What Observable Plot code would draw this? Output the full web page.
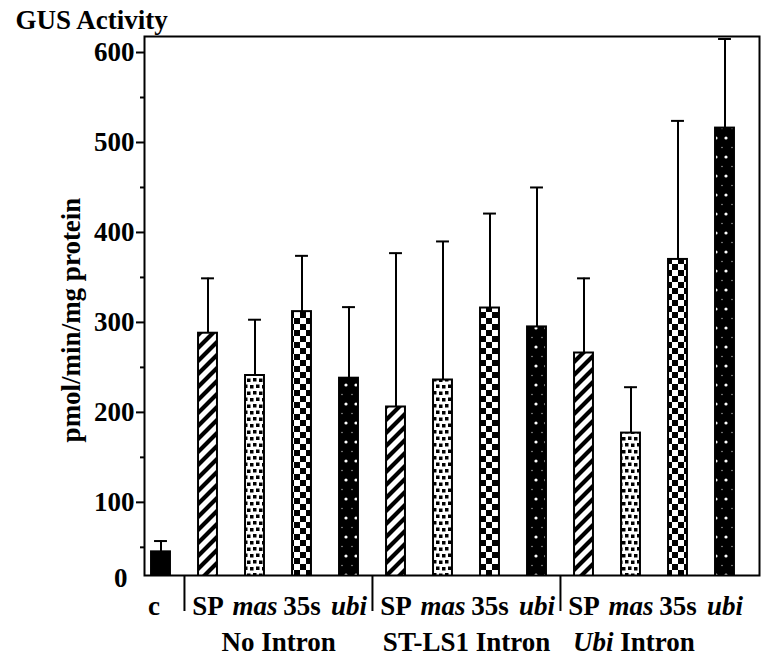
<!DOCTYPE html>
<html><head><meta charset="utf-8">
<script src="https://cdn.jsdelivr.net/npm/d3@7"></script>
<script src="https://cdn.jsdelivr.net/npm/@observablehq/plot@0.6"></script>
<style>body{margin:0;background:#fff}</style>
</head><body><div id="chart"></div>
<script>
// ---- data ----
const promoters = ["c","SP","mas","35s","ubi","SP","mas","35s","ubi","SP","mas","35s","ubi"];
const groups = ["control","No Intron","No Intron","No Intron","No Intron",
  "ST-LS1 Intron","ST-LS1 Intron","ST-LS1 Intron","ST-LS1 Intron",
  "Ubi Intron","Ubi Intron","Ubi Intron","Ubi Intron"];
const means = [45, 288, 241, 312, 238, 206, 236, 316, 295, 266, 177, 370, 516];
const sds   = [12,  61,  62,  62,  79, 171, 154, 105, 155,  83,  51, 154,  99];
const yTicks = [100, 200, 300, 400, 500, 600];
const yMinorTicks = [50, 150, 250, 350, 450, 550];
const italicPromoters = ["mas", "ubi"];
const groupLabels = ["No Intron", "ST-LS1 Intron", "Ubi Intron"];
const title = "GUS Activity";
const yLabel = "pmol/min/mg protein";
const zeroLabel = "0";

const data = promoters.map((p, i) => ({
  key: groups[i] + "|" + p, promoter: p, group: groups[i],
  mean: means[i], top: means[i] + sds[i]
}));
const keys = data.map(d => d.key);
const groupRows = groupLabels.map(g => ({label: g, key: g + "|mas", spKey: g + "|SP"}));
const sepRows = data.filter((d, i) => i > 0 && d.promoter === "SP");

const W = 761, H = 658, ML = 144, MR = 2, MT = 36, MB = 83;
const xRange = [136, 748];
const step = (xRange[1] - xRange[0]) / keys.length;
const barW = 19, capW = 13;
const FONT = "'Liberation Serif', 'Times New Roman', serif";
const FS = 27;

const patternOf = {c: "#000", SP: "url(#hatch)", mas: "url(#dots)", "35s": "url(#checker)", ubi: "url(#ubidots)"};

const barMarks = Object.keys(patternOf).map(p =>
  Plot.barY(data.filter(d => d.promoter === p), {
    x: "key", y: "mean", fill: patternOf[p], stroke: "#000", strokeWidth: 2,
    insetLeft: (step - barW) / 2, insetRight: (step - barW) / 2, clip: true
  })
);

const labelOpts = {x: "key", text: "promoter", frameAnchor: "bottom", lineAnchor: "bottom",
  dy: 39, fontSize: FS, fontWeight: "bold"};

const chart = Plot.plot({
  width: W, height: H,
  marginLeft: ML, marginRight: MR, marginTop: MT, marginBottom: MB,
  style: {fontFamily: FONT, fontWeight: "bold", background: "#fff", color: "#000", overflow: "visible"},
  x: {type: "band", domain: keys, range: xRange, padding: 0, axis: null},
  y: {domain: [18.7, 617.8], axis: null},
  marks: [
    ...barMarks,
    Plot.ruleX(data, {x: "key", y1: "mean", y2: "top", stroke: "#000", strokeWidth: 2}),
    Plot.tickY(data, {x: "key", y: "top", stroke: "#000", strokeWidth: 2,
      insetLeft: (step - capW) / 2, insetRight: (step - capW) / 2}),
    Plot.frame({stroke: "#000", strokeWidth: 2}),
    Plot.axisY({ticks: yTicks, tickSize: 8, tickPadding: 2, fontSize: FS, fontWeight: "bold",
      strokeWidth: 2, label: null}),
    Plot.axisY({ticks: yMinorTicks, tickSize: 4, tickFormat: () => "", strokeWidth: 2, label: null}),
    Plot.text([zeroLabel], {text: d => d, frameAnchor: "bottom-left", textAnchor: "end",
      lineAnchor: "middle", dx: -17, dy: 3, fontSize: FS, fontWeight: "bold"}),
    // group separators below the axis
    Plot.ruleX(sepRows, {x: "key", dx: -step / 2, insetTop: (H - MB - MT) - 36, dy: 36,
      stroke: "#000", strokeWidth: 2}),
    // bar labels
    Plot.text(data.filter(d => d.promoter === "c"), {...labelOpts, dx: -7}),
    Plot.text(data.filter(d => d.promoter !== "c" && !italicPromoters.includes(d.promoter)), labelOpts),
    Plot.text(data.filter(d => italicPromoters.includes(d.promoter)), {...labelOpts, fontStyle: "italic"}),
    // group labels
    Plot.text(groupRows.filter(g => g.label !== "Ubi Intron"), {x: "key", text: "label", dx: step / 2,
      frameAnchor: "bottom", lineAnchor: "bottom", dy: 75, fontSize: FS, fontWeight: "bold"}),
    Plot.text(groupRows.filter(g => g.label === "Ubi Intron"), {x: "spKey", text: "label", dx: -11,
      textAnchor: "start", frameAnchor: "bottom", lineAnchor: "bottom", dy: 75, fontSize: FS, fontWeight: "bold"}),
    // title and y label
    Plot.text([title], {text: d => d, frameAnchor: "top-left", textAnchor: "start", lineAnchor: "bottom",
      dx: 15 - ML, dy: 28 - MT, fontSize: FS, fontWeight: "bold"}),
    Plot.text([yLabel], {text: d => d, frameAnchor: "left", rotate: -90, textAnchor: "middle",
      lineAnchor: "middle", dx: 71 - ML, dy: 14, fontSize: FS, fontWeight: "bold"})
  ]
});

// patterns
const ns = "http://www.w3.org/2000/svg";
const defs = document.createElementNS(ns, "defs");
defs.innerHTML = `
<pattern id="hatch" patternUnits="userSpaceOnUse" width="13" height="13">
  <rect width="13" height="13" fill="#fff"/>
  <path d="M-3.25,3.25 L3.25,-3.25 M0,13 L13,0 M9.75,16.25 L16.25,9.75" stroke="#000" stroke-width="4.2"/>
</pattern>
<pattern id="dots" patternUnits="userSpaceOnUse" width="12" height="13">
  <rect width="12" height="13" fill="#fff"/>
  <rect x="1" y="1" width="3.5" height="3.5" fill="#000"/>
  <rect x="7" y="1.5" width="3.5" height="3.5" fill="#000"/>
  <rect x="4" y="7.5" width="3.5" height="3.5" fill="#000"/>
  <rect x="10" y="8" width="3.5" height="3.5" fill="#000"/>
  <rect x="-2" y="8" width="3.5" height="3.5" fill="#000"/>
</pattern>
<pattern id="checker" patternUnits="userSpaceOnUse" width="12" height="12">
  <rect width="12" height="12" fill="#fff"/>
  <rect x="0" y="0" width="6" height="6" fill="#000"/>
  <rect x="6" y="6" width="6" height="6" fill="#000"/>
</pattern>
<pattern id="ubidots" patternUnits="userSpaceOnUse" width="10" height="19">
  <rect width="10" height="19" fill="#000"/>
  <circle cx="6" cy="5" r="1.6" fill="#fff"/>
  <circle cx="2" cy="14.5" r="0.8" fill="#999"/>
</pattern>`;
chart.insertBefore(defs, chart.firstChild);

// italic "Ubi" in the group label
chart.querySelectorAll("text").forEach(t => {
  if (t.textContent === "Ubi Intron") {
    t.textContent = "";
    const ts = document.createElementNS(ns, "tspan");
    ts.setAttribute("font-style", "italic");
    ts.textContent = "Ubi";
    t.appendChild(ts);
    t.appendChild(document.createTextNode(" Intron"));
  }
});

document.getElementById("chart").appendChild(chart);
</script>
</body></html>
